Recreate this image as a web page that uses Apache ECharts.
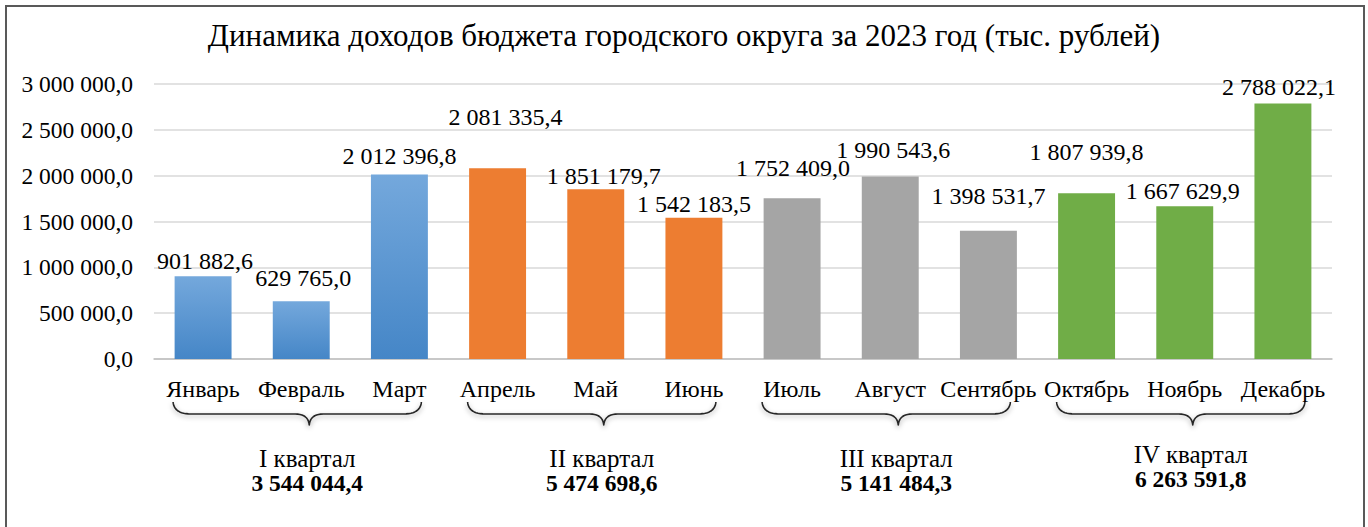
<!DOCTYPE html>
<html><head><meta charset="utf-8">
<script src="https://cdn.jsdelivr.net/npm/echarts@6/dist/echarts.min.js"></script>
<style>html,body{margin:0;padding:0;background:#fff}#c{width:1368px;height:527px}</style>
</head><body><div id="c"></div>
<script>
// ---- data ----
const titleText = 'Динамика доходов бюджета городского округа за 2023 год (тыс. рублей)';
const months = ['Январь','Февраль','Март','Апрель','Май','Июнь','Июль','Август','Сентябрь','Октябрь','Ноябрь','Декабрь'];
const revenues = [901882.6, 629765.0, 2012396.8, 2081335.4, 1851179.7, 1542183.5, 1752409.0, 1990543.6, 1398531.7, 1807939.8, 1667629.9, 2788022.1];
const quarterNames = ['I квартал','II квартал','III квартал','IV квартал'];
const quarterTotals = [3544044.4, 5474698.6, 5141484.3, 6263591.8];
const yMin = 0, yMax = 3000000, yStep = 500000;

// ---- styling helpers ----
const FONT = 'Liberation Serif';
const quarterColors = [
  {type:'linear',x:0,y:0,x2:0,y2:1,colorStops:[{offset:0,color:'#74A8DC'},{offset:1,color:'#4586C7'}]},
  '#ED7D31','#A5A5A5','#70AD47'
];
// label nudges [dx, dy] to mimic the original label placement
const labelNudge = [[2,2],[2,-6],[0,-2],[8,-34],[8,4],[0,3],[1,-13],[3,-10],[0,-18],[0,-24],[-2,2],[-4,1]];
// vertical nudge of the quarter captions
const quarterTextNudge = [0,0,0,-4];

function fmt(v){
  const s = v.toFixed(1).split('.');
  return s[0].replace(/\B(?=(\d{3})+(?!\d))/g,' ') + ',' + s[1];
}

const chart = echarts.init(document.getElementById('c'), null, {renderer:'svg'});
chart.setOption({
  backgroundColor:'#fff',
  animation:false,
  title:{text:titleText,left:'center',top:20,padding:0,
    textStyle:{fontFamily:FONT,fontSize:31,fontWeight:'normal',color:'#000'}},
  grid:{left:154,right:36,top:84,bottom:168,containLabel:false},
  xAxis:{type:'category',data:months,
    axisLine:{lineStyle:{color:'#BFBFBF',width:1.5}},
    axisTick:{show:false},
    axisLabel:{fontFamily:FONT,fontSize:24,color:'#000',margin:18,interval:0}},
  yAxis:{type:'value',min:yMin,max:yMax,interval:yStep,
    axisLine:{show:false},axisTick:{show:false},
    splitLine:{lineStyle:{color:'#D9D9D9',width:1.5}},
    axisLabel:{fontFamily:FONT,fontSize:23.5,color:'#000',margin:21,formatter:fmt}},
  series:[{type:'bar',barWidth:'58%',
    data:revenues.map((v,i)=>({value:v,
      itemStyle:{color:quarterColors[Math.floor(i/3)]},
      label:{offset:labelNudge[i]}})),
    label:{show:true,position:'top',distance:5,fontFamily:FONT,fontSize:24,color:'#000',
      formatter:p=>fmt(p.value)}}]
});

// ---- quarter braces and totals, placed from the category scale ----
function px(i){ return chart.convertToPixel({xAxisIndex:0}, i); }
function quad(a, c, b, n){
  const pts = [];
  for(let k=0;k<=n;k++){
    const t = k/n, u = 1-t;
    pts.push([u*u*a[0]+2*u*t*c[0]+t*t*b[0], u*u*a[1]+2*u*t*c[1]+t*t*b[1]]);
  }
  return pts;
}
const g = [];
g.push({type:'rect',silent:true,shape:{x:6,y:6,width:1358,height:600},
  style:{fill:'none',stroke:'#595959',lineWidth:2},z:100});
for(let q=0;q<4;q++){
  const xl = px(q*3) - 30, xr = px(q*3+2) + 22, xp = px(q*3+1) + 8;
  const yT = 402, yM = 414, yP = 425, r = 18, rp = 14;
  const pts = [].concat(
    quad([xl,yT],[xl+1,yM],[xl+r,yM],12),
    quad([xp-rp,yM],[xp-1,yM],[xp,yP],10),
    quad([xp,yP],[xp+1,yM],[xp+rp,yM],10),
    quad([xr-r,yM],[xr-1,yM],[xr,yT],12)
  );
  g.push({type:'polyline',silent:true,shape:{points:pts},
    style:{fill:'none',stroke:'#262626',lineWidth:1.6,lineJoin:'round',
      shadowBlur:5,shadowColor:'rgba(0,0,0,0.35)',shadowOffsetY:2}});
  const xc = px(q*3+1) + 6, dy = quarterTextNudge[q];
  g.push({type:'text',silent:true,x:xc,y:458+dy,style:{text:quarterNames[q],align:'center',verticalAlign:'middle',
    fontFamily:FONT,fontSize:25,fill:'#000'}});
  g.push({type:'text',silent:true,x:xc,y:483+dy,style:{text:fmt(quarterTotals[q]),align:'center',verticalAlign:'middle',
    fontFamily:FONT,fontSize:23.5,fontWeight:'bold',fill:'#000'}});
}
chart.setOption({graphic:g});
</script>
</body></html>
